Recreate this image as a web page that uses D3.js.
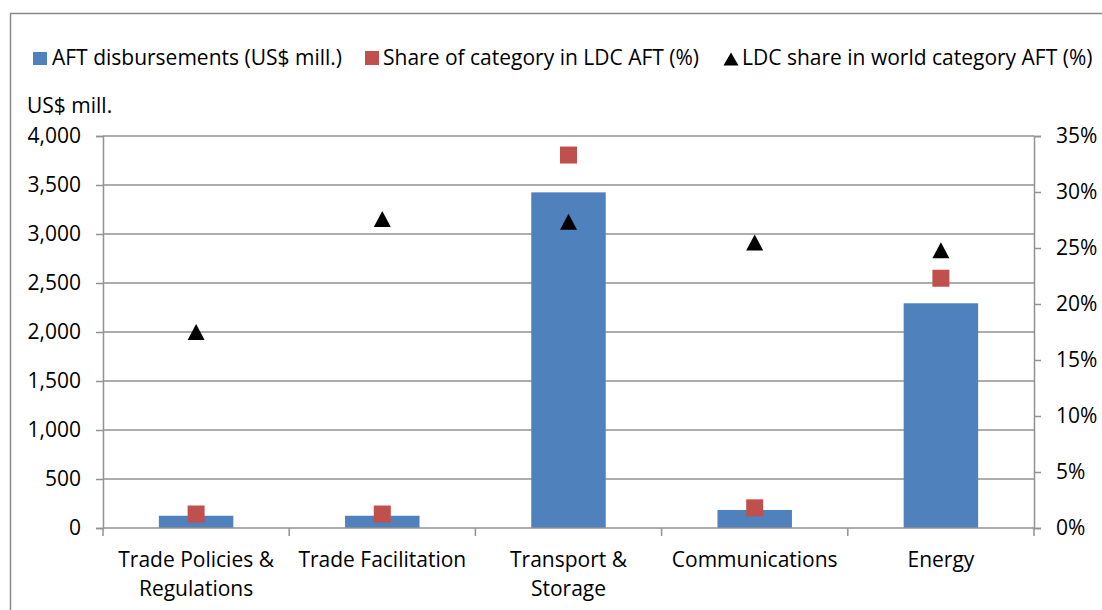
<!DOCTYPE html>
<html>
<head>
<meta charset="utf-8">
<script src="https://cdn.jsdelivr.net/npm/d3@7"></script>
<style>
  html, body { margin: 0; padding: 0; background: #fff; }
  svg { display: block; font-family: "Open Sans", "Noto Sans", Arial, sans-serif; }
</style>
</head>
<body>
<svg id="chart" width="1102" height="610"></svg>
<script>
// Aid for Trade in LDCs by infrastructure / policy category
const categories = [
  ["Trade Policies &", "Regulations"],
  ["Trade Facilitation"],
  ["Transport &", "Storage"],
  ["Communications"],
  ["Energy"]
];
const disbursements = [125, 125, 3425, 184, 2293];          // US$ mill.
const shareInLdcAft = [1.25, 1.25, 33.3, 1.8, 22.3];        // %
const ldcShareInWorld = [17.5, 27.6, 27.35, 25.5, 24.8];     // %
const leftTicks = [0, 500, 1000, 1500, 2000, 2500, 3000, 3500, 4000];
const rightTicks = [0, 5, 10, 15, 20, 25, 30, 35];
const legendLabels = [
  "AFT disbursements (US$ mill.)",
  "Share of category in LDC AFT (%)",
  "LDC share in world category AFT (%)"
];

const BLUE = "#4F81BD", RED = "#C0504D", GRID = "#929292";
const FS = 21;
const svg = d3.select("#chart");
const plot = { left: 103, right: 1034, top: 136, bottom: 528 };

// triangle marker with explicit width / height
const triangle = (w, h) => ({
  draw(ctx) {
    ctx.moveTo(0, -h / 2);
    ctx.lineTo(w / 2, h / 2);
    ctx.lineTo(-w / 2, h / 2);
    ctx.closePath();
  }
});

// chart frame
svg.append("path")
  .attr("d", `M10.5,610 V13.5 H1102`)
  .attr("fill", "none").attr("stroke", "#8a8a8a").attr("stroke-width", 1.5);

const keys = categories.map((c, i) => i);
const x = d3.scaleBand().domain(keys).range([plot.left, plot.right])
  .paddingInner(0.6).paddingOuter(0.3);
const yL = d3.scaleLinear().domain([0, 4000]).range([plot.bottom, plot.top]);
const yR = d3.scaleLinear().domain([0, 35]).range([plot.bottom, plot.top]);
const cx = i => x(i) + x.bandwidth() / 2;

// gridlines
svg.append("g").selectAll("line").data(leftTicks.slice(1)).join("line")
  .attr("x1", plot.left).attr("x2", plot.right)
  .attr("y1", d => yL(d)).attr("y2", d => yL(d))
  .attr("stroke", GRID).attr("stroke-width", 1.5);

// left and right value axes
const axL = svg.append("g").attr("transform", `translate(${plot.left},0)`)
  .call(d3.axisLeft(yL).tickValues(leftTicks).tickFormat(d3.format(",")).tickSize(7).tickPadding(15));
const axR = svg.append("g").attr("transform", `translate(${plot.right},0)`)
  .call(d3.axisRight(yR).tickValues(rightTicks).tickFormat(d => d + "%").tickSize(7).tickPadding(15));
[axL, axR].forEach(a => {
  a.attr("font-family", null).attr("font-size", null);
  a.select(".domain").attr("stroke", GRID).attr("stroke-width", 1.5);
  a.selectAll(".tick line").attr("stroke", GRID).attr("stroke-width", 1.5);
  a.selectAll(".tick text").attr("font-size", FS).attr("fill", "#000");
});

// bars
svg.append("g").selectAll("rect").data(disbursements).join("rect")
  .attr("x", (d, i) => x(i)).attr("width", x.bandwidth())
  .attr("y", d => yL(d)).attr("height", d => yL(0) - yL(d))
  .attr("fill", BLUE);

// category axis with ticks at category boundaries
const step = x.step();
const bounds = d3.range(categories.length + 1).map(i => plot.left + i * step);
svg.append("line").attr("x1", plot.left).attr("x2", plot.right)
  .attr("y1", plot.bottom).attr("y2", plot.bottom)
  .attr("stroke", GRID).attr("stroke-width", 1.5);
svg.append("g").selectAll("line").data(bounds).join("line")
  .attr("x1", d => d).attr("x2", d => d)
  .attr("y1", plot.bottom).attr("y2", plot.bottom + 8)
  .attr("stroke", GRID).attr("stroke-width", 1.5);
const catText = svg.append("g").selectAll("text").data(categories).join("text")
  .attr("x", (d, i) => cx(i))
  .attr("y", 567).attr("text-anchor", "middle").attr("font-size", FS);
catText.selectAll("tspan").data(d => d).join("tspan")
  .attr("x", function () { return d3.select(this.parentNode).attr("x"); })
  .attr("dy", (d, i) => i === 0 ? 0 : 29)
  .text(d => d);

// share of category in LDC AFT (squares)
const sq = 17;
svg.append("g").selectAll("rect").data(shareInLdcAft).join("rect")
  .attr("x", (d, i) => cx(i) - sq / 2)
  .attr("y", d => yR(d) - sq / 2)
  .attr("width", sq).attr("height", sq).attr("fill", RED);

// LDC share in world category AFT (triangles)
svg.append("g").selectAll("path").data(ldcShareInWorld).join("path")
  .attr("transform", (d, i) => `translate(${cx(i)},${yR(d)})`)
  .attr("d", d3.symbol().type(triangle(17, 16))).attr("fill", "#000");

// axis unit label
svg.append("text").attr("x", 27).attr("y", 113).attr("font-size", FS).text("US$ mill.");

// legend
const legendX = [33, 365, 723];
const legend = svg.append("g");
legendLabels.forEach((t, i) => {
  const g = legend.append("g").attr("transform", `translate(${legendX[i]},58)`);
  if (i === 0) g.append("rect").attr("x", 0).attr("y", -6).attr("width", 14).attr("height", 13).attr("fill", BLUE);
  if (i === 1) g.append("rect").attr("x", 0).attr("y", -7).attr("width", 14).attr("height", 14).attr("fill", RED);
  if (i === 2) g.append("path").attr("transform", "translate(8,1)")
    .attr("d", d3.symbol().type(triangle(15, 13))).attr("fill", "#000");
  g.append("text").attr("x", i === 2 ? 19 : i === 1 ? 18 : 19).attr("y", 7).attr("font-size", FS).text(t);
});
</script>
</body>
</html>
